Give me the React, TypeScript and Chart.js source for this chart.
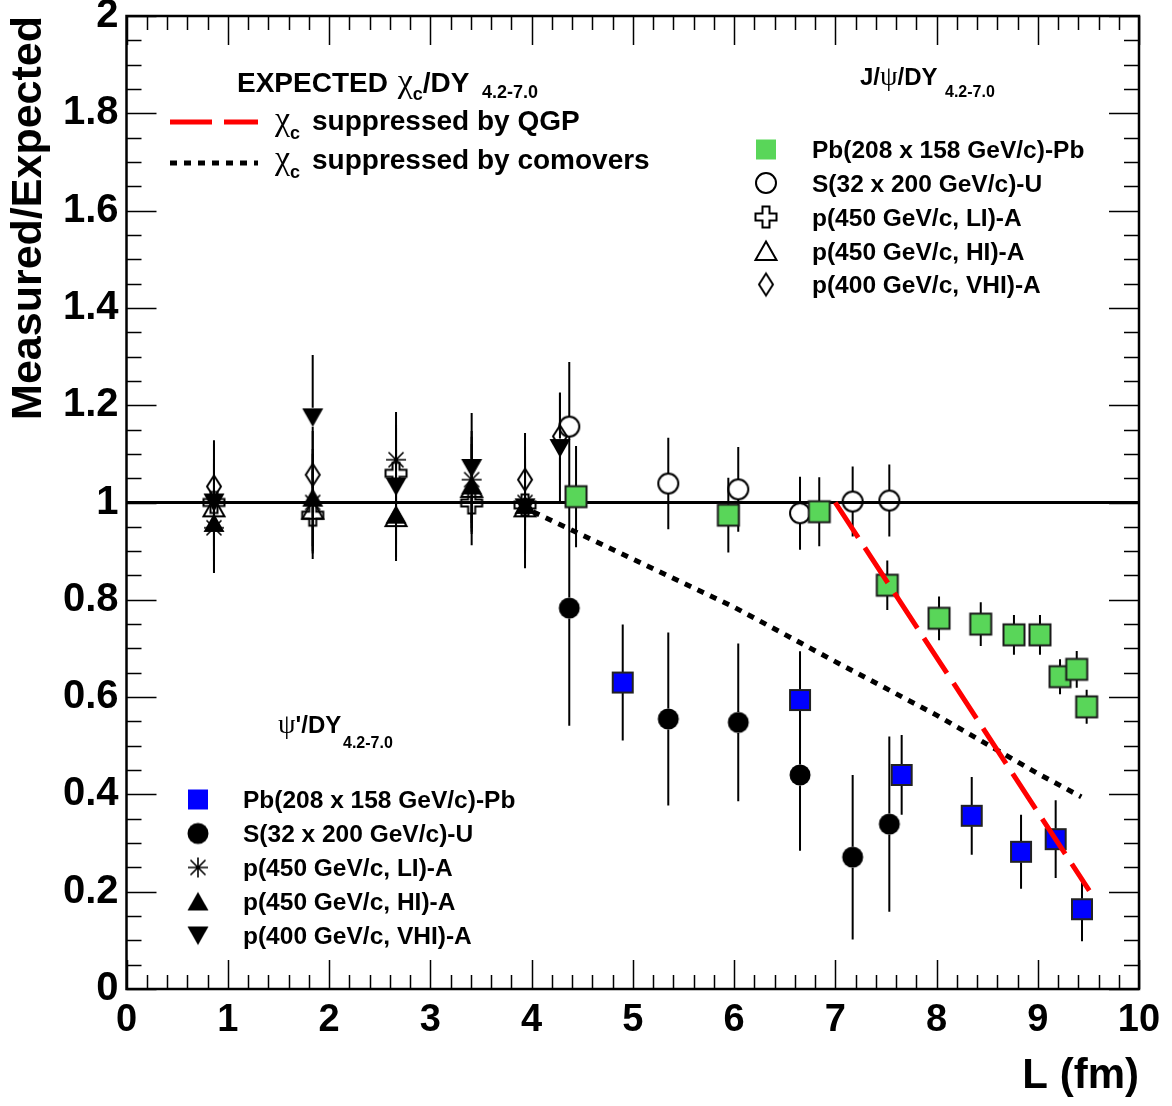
import React, { useEffect, useRef } from 'react';
import { Chart, registerables } from 'chart.js';

Chart.register(...registerables);

const W = 1172;
const H = 1106;
const SANS = "'Liberation Sans', Arial, Helvetica, sans-serif";
const GREEK = "'Liberation Serif', 'DejaVu Serif', serif";

// ---------- data (L in fm, ratio Measured/Expected, error) ----------
const jpsiPbPbL = [4.44, 5.944, 6.842, 7.514, 8.025, 8.437, 8.765, 9.022, 9.22, 9.385, 9.483];
const jpsiPbPbR = [1.012, 0.974, 0.981, 0.83, 0.762, 0.75, 0.728, 0.728, 0.642, 0.657, 0.58];
const jpsiPbPbE = [0.104, 0.077, 0.071, 0.051, 0.045, 0.045, 0.041, 0.041, 0.036, 0.038, 0.035];

const jpsiSUL = [4.373, 5.351, 6.042, 6.652, 7.172, 7.534];
const jpsiSUR = [1.156, 1.039, 1.027, 0.978, 1.002, 1.004];
const jpsiSUE = [0.133, 0.094, 0.087, 0.075, 0.072, 0.074];

const pAL = [0.864, 1.839, 2.662, 3.409, 3.936];
const jpsiLIR = [1.0, 0.974, 1.06, 0.999, 0.995];
const jpsiLIE = [0.09, 0.09, 0.1, 0.087, 0.09];
const jpsiHIR = [0.99, 0.985, 0.97, 1.03, 0.99];
const jpsiHIE = [0.09, 0.09, 0.09, 0.09, 0.09];
const jpsiVHIL = [0.864, 1.839, 3.936, 4.281];
const jpsiVHIR = [1.033, 1.057, 1.047, 1.136];
const jpsiVHIE = [0.095, 0.09, 0.096, 0.09];

const psiPbPbL = [4.901, 6.652, 7.656, 8.348, 8.835, 9.177, 9.437];
const psiPbPbR = [0.63, 0.594, 0.44, 0.356, 0.282, 0.308, 0.164];
const psiPbPbE = [0.119, 0.1, 0.082, 0.08, 0.076, 0.08, 0.066];

const psiSUL = [4.373, 5.351, 6.042, 6.652, 7.172, 7.534];
const psiSUR = [0.783, 0.555, 0.548, 0.44, 0.271, 0.339];
const psiSUE = [0.242, 0.178, 0.162, 0.156, 0.169, 0.18];

const psiLIR = [0.948, 1.0, 1.088, 1.047, 1.0];
const psiLIE = [0.093, 0.1, 0.098, 0.1, 0.1];
const psiHIR = [0.958, 1.01, 0.975, 1.035, 0.995];
const psiHIE = [0.1, 0.1, 0.087, 0.1, 0.1];
const psiVHIL = [0.864, 1.839, 2.662, 3.409, 3.936, 4.281];
const psiVHIR = [1.0, 1.175, 1.033, 1.071, 0.99, 1.112];
const psiVHIE = [0.12, 0.128, 0.12, 0.113, 0.125, 0.113];

// theory curves
const qgpL = [7.0, 9.509];
const qgpR = [1.0, 0.202];
const comovL = [4.015, 5.0, 6.0, 7.0, 8.0, 9.0, 9.43];
const comovR = [0.981, 0.884, 0.785, 0.673, 0.563, 0.443, 0.395];
const unityL = [0, 10];
const unityR = [1, 1];

// axis ticks
const xTickStep = 1;
const yTickStep = 0.2;

// legends
const jpsiLegendLabels = [
  'Pb(208 x 158 GeV/c)-Pb',
  'S(32 x 200 GeV/c)-U',
  'p(450 GeV/c, LI)-A',
  'p(450 GeV/c, HI)-A',
  'p(400 GeV/c, VHI)-A',
];
const psiLegendLabels = [
  'Pb(208 x 158 GeV/c)-Pb',
  'S(32 x 200 GeV/c)-U',
  'p(450 GeV/c, LI)-A',
  'p(450 GeV/c, HI)-A',
  'p(400 GeV/c, VHI)-A',
];

const GREEN = '#59d659';
const BLUE = '#0000ff';

// ---------- markers ----------
function makeMarker(kind: string): HTMLCanvasElement {
  const s = 30;
  const c = document.createElement('canvas');
  c.width = s;
  c.height = s;
  const g = c.getContext('2d') as CanvasRenderingContext2D;
  g.translate(s / 2, s / 2);
  g.lineJoin = 'miter';
  g.strokeStyle = '#000';
  g.fillStyle = '#000';
  switch (kind) {
    case 'greenSq':
      g.fillStyle = GREEN;
      g.fillRect(-10.5, -10.5, 21, 21);
      g.lineWidth = 2;
      g.strokeStyle = '#1a1a1a';
      g.strokeRect(-10.5, -10.5, 21, 21);
      break;
    case 'blueSq':
      g.fillStyle = BLUE;
      g.fillRect(-10, -10, 20, 20);
      g.lineWidth = 2;
      g.strokeStyle = '#222';
      g.strokeRect(-10, -10, 20, 20);
      break;
    case 'greenSqL':
      g.fillStyle = GREEN;
      g.fillRect(-10, -10, 20, 20);
      break;
    case 'blueSqL':
      g.fillStyle = BLUE;
      g.fillRect(-10, -10, 20, 20);
      break;
    case 'circOpen':
      g.beginPath();
      g.arc(0, 0, 10, 0, Math.PI * 2);
      g.lineWidth = 2;
      g.stroke();
      break;
    case 'circFill':
      g.beginPath();
      g.arc(0, 0, 10.5, 0, Math.PI * 2);
      g.fill();
      break;
    case 'crossOpen': {
      const a = 10.5;
      const b = 3.5;
      g.beginPath();
      g.moveTo(-b, -a);
      g.lineTo(b, -a);
      g.lineTo(b, -b);
      g.lineTo(a, -b);
      g.lineTo(a, b);
      g.lineTo(b, b);
      g.lineTo(b, a);
      g.lineTo(-b, a);
      g.lineTo(-b, b);
      g.lineTo(-a, b);
      g.lineTo(-a, -b);
      g.lineTo(-b, -b);
      g.closePath();
      g.lineWidth = 2;
      g.stroke();
      break;
    }
    case 'triOpen':
      g.beginPath();
      g.moveTo(0, -9.5);
      g.lineTo(10.5, 9);
      g.lineTo(-10.5, 9);
      g.closePath();
      g.lineWidth = 2;
      g.stroke();
      break;
    case 'triFill':
      g.beginPath();
      g.moveTo(0, -9.5);
      g.lineTo(10.5, 9);
      g.lineTo(-10.5, 9);
      g.closePath();
      g.fill();
      break;
    case 'triDown':
      g.beginPath();
      g.moveTo(0, 9.5);
      g.lineTo(10.5, -9);
      g.lineTo(-10.5, -9);
      g.closePath();
      g.fill();
      break;
    case 'diamond':
      g.beginPath();
      g.moveTo(0, -11);
      g.lineTo(7, 0);
      g.lineTo(0, 11);
      g.lineTo(-7, 0);
      g.closePath();
      g.lineWidth = 2;
      g.stroke();
      break;
    case 'star':
      g.lineWidth = 1.6;
      g.beginPath();
      g.moveTo(-10, 0);
      g.lineTo(10, 0);
      g.moveTo(0, -10);
      g.lineTo(0, 10);
      g.moveTo(-7.5, -7.5);
      g.lineTo(7.5, 7.5);
      g.moveTo(-7.5, 7.5);
      g.lineTo(7.5, -7.5);
      g.stroke();
      break;
  }
  return c;
}

function pts(xs: number[], ys: number[]) {
  return xs.map((x, i) => ({ x, y: ys[i] }));
}

function markerSet(label: string, xs: number[], ys: number[], es: number[], marker: HTMLCanvasElement, gap: number, order: number) {
  return {
    type: 'scatter' as const,
    label,
    data: pts(xs, ys),
    errs: es,
    gap,
    pointStyle: marker,
    pointRadius: 10,
    showLine: false,
    order,
  };
}

function rich(ctx: CanvasRenderingContext2D, x: number, y: number, parts: [string, string, number, number][]) {
  let cx = x;
  for (const [t, f, dy, extra] of parts) {
    ctx.font = f;
    ctx.fillText(t, cx, y + dy);
    cx += ctx.measureText(t).width + extra;
  }
}

export default function App() {
  const ref = useRef<HTMLCanvasElement | null>(null);

  useEffect(() => {
    const canvas = ref.current;
    if (!canvas) return;

    const M = {
      greenSq: makeMarker('greenSq'),
      blueSq: makeMarker('blueSq'),
      greenSqL: makeMarker('greenSqL'),
      blueSqL: makeMarker('blueSqL'),
      circOpen: makeMarker('circOpen'),
      circFill: makeMarker('circFill'),
      crossOpen: makeMarker('crossOpen'),
      triOpen: makeMarker('triOpen'),
      triFill: makeMarker('triFill'),
      triDown: makeMarker('triDown'),
      diamond: makeMarker('diamond'),
      star: makeMarker('star'),
    };

    const errorBars = {
      id: 'errorBars',
      beforeDatasetsDraw(chart: any) {
        const ctx = chart.ctx as CanvasRenderingContext2D;
        const ys = chart.scales.y;
        ctx.save();
        ctx.strokeStyle = '#000';
        ctx.lineWidth = 2;
        chart.data.datasets.forEach((ds: any, i: number) => {
          if (!ds.errs) return;
          const meta = chart.getDatasetMeta(i);
          meta.data.forEach((el: any, j: number) => {
            const v = ds.data[j].y;
            const e = ds.errs[j];
            const top = ys.getPixelForValue(v + e);
            const bot = ys.getPixelForValue(v - e);
            ctx.beginPath();
            if (top < el.y - ds.gap) {
              ctx.moveTo(el.x, top);
              ctx.lineTo(el.x, el.y - ds.gap);
            }
            if (bot > el.y + ds.gap) {
              ctx.moveTo(el.x, el.y + ds.gap);
              ctx.lineTo(el.x, bot);
            }
            ctx.stroke();
          });
        });
        ctx.restore();
      },
    };

    const frame = {
      id: 'frame',
      afterDatasetsDraw(chart: any) {
        const ctx = chart.ctx as CanvasRenderingContext2D;
        const { left, right, top, bottom } = chart.chartArea;
        const xs = chart.scales.x;
        const ys = chart.scales.y;
        ctx.save();
        ctx.strokeStyle = '#000';
        ctx.lineWidth = 1.5;
        ctx.beginPath();
        for (let k = 0; k <= 50; k++) {
          const v = k * 0.2;
          const px = Math.round(xs.getPixelForValue(v)) + 0.5;
          const len = k % 5 === 0 ? 29 : 14;
          ctx.moveTo(px, bottom);
          ctx.lineTo(px, bottom - len);
          ctx.moveTo(px, top);
          ctx.lineTo(px, top + len);
        }
        for (let k = 0; k <= 40; k++) {
          const v = k * 0.05;
          const py = Math.round(ys.getPixelForValue(v)) + 0.5;
          const len = k % 4 === 0 ? 30 : 15;
          ctx.moveTo(left, py);
          ctx.lineTo(left + len, py);
          ctx.moveTo(right, py);
          ctx.lineTo(right - len, py);
        }
        ctx.stroke();
        ctx.lineWidth = 2.5;
        ctx.strokeRect(left, top, right - left, bottom - top);
        ctx.restore();
      },
      afterDraw(chart: any) {
        const ctx = chart.ctx as CanvasRenderingContext2D;
        ctx.save();
        ctx.fillStyle = '#000';
        ctx.textBaseline = 'alphabetic';
        ctx.textAlign = 'left';
        const B28 = `bold 28px ${SANS}`;
        const B18 = `bold 18px ${SANS}`;
        const G34 = `34px ${GREEK}`;
        // Expected chi_c legend
        rich(ctx, 237, 92, [
          ['EXPECTED ', B28, 0, 2],
          ['\u03c7', G34, 0, 0],
          ['c', B18, 8, 0],
          ['/DY', B28, 0, 0],
        ]);
        ctx.font = B18;
        ctx.fillText('4.2-7.0', 482, 98);
        ctx.lineWidth = 5;
        ctx.strokeStyle = '#ff0000';
        ctx.setLineDash([42, 12]);
        ctx.beginPath();
        ctx.moveTo(170, 122);
        ctx.lineTo(258, 122);
        ctx.stroke();
        ctx.strokeStyle = '#000';
        ctx.setLineDash([7, 7]);
        ctx.beginPath();
        ctx.moveTo(170, 163);
        ctx.lineTo(258, 163);
        ctx.stroke();
        ctx.setLineDash([]);
        rich(ctx, 275, 130, [['\u03c7', G34, 0, 0], ['c', B18, 9, 0]]);
        ctx.font = B28;
        ctx.fillText('suppressed by QGP', 312, 130);
        rich(ctx, 275, 169, [['\u03c7', G34, 0, 0], ['c', B18, 9, 0]]);
        ctx.font = B28;
        ctx.fillText('suppressed by comovers', 312, 169);

        // J/psi legend
        const B24 = `bold 24px ${SANS}`;
        const B25 = `bold 24.5px ${SANS}`;
        const B16 = `bold 16px ${SANS}`;
        const G28 = `28px ${GREEK}`;
        rich(ctx, 860, 85, [['J/', B24, 0, 0], ['\u03c8', G28, 0, 0], ['/DY', B24, 0, 0]]);
        ctx.font = B16;
        ctx.fillText('4.2-7.0', 945, 97);
        const jm = [M.greenSqL, M.circOpen, M.crossOpen, M.triOpen, M.diamond];
        const jb = [158, 191.5, 225.5, 259.5, 293];
        jpsiLegendLabels.forEach((t, i) => {
          const mk = jm[i];
          ctx.drawImage(mk, 766 - mk.width / 2, jb[i] - 8.5 - mk.height / 2);
          ctx.font = B25;
          ctx.fillText(t, 812, jb[i]);
        });

        // psi' legend
        rich(ctx, 278, 733, [['\u03c8', G28, 0, 0], ["'/DY", B24, 0, 0]]);
        ctx.font = B16;
        ctx.fillText('4.2-7.0', 343, 748);
        const pm = [M.blueSqL, M.circFill, M.star, M.triFill, M.triDown];
        const pb = [808, 842, 876, 910, 944];
        psiLegendLabels.forEach((t, i) => {
          const mk = pm[i];
          ctx.drawImage(mk, 198 - mk.width / 2, pb[i] - 8.5 - mk.height / 2);
          ctx.font = B25;
          ctx.fillText(t, 243, pb[i]);
        });
        ctx.restore();
      },
    };

    const chart = new Chart(canvas, {
      type: 'scatter',
      data: {
        datasets: [
          {
            type: 'line',
            label: 'unity',
            data: pts(unityL, unityR),
            borderColor: '#000',
            borderWidth: 3,
            pointRadius: 0,
            order: 100,
          } as any,
          markerSet('psi SU', psiSUL, psiSUR, psiSUE, M.circFill, 10.5, 20),
          markerSet('psi PbPb', psiPbPbL, psiPbPbR, psiPbPbE, M.blueSq, 10.5, 10),
          markerSet('jpsi LI', pAL, jpsiLIR, jpsiLIE, M.crossOpen, 10.5, 30),
          markerSet('jpsi HI', pAL, jpsiHIR, jpsiHIE, M.triOpen, 9.5, 29),
          markerSet('jpsi VHI', jpsiVHIL, jpsiVHIR, jpsiVHIE, M.diamond, 11, 28),
          markerSet('psi LI', pAL, psiLIR, psiLIE, M.star, 0, 27),
          markerSet('psi HI', pAL, psiHIR, psiHIE, M.triFill, 9.5, 26),
          markerSet('psi VHI', psiVHIL, psiVHIR, psiVHIE, M.triDown, 9.5, 25),
          markerSet('jpsi SU', jpsiSUL, jpsiSUR, jpsiSUE, M.circOpen, 10, 15),
          markerSet('jpsi PbPb', jpsiPbPbL, jpsiPbPbR, jpsiPbPbE, M.greenSq, 10.5, 5),
          {
            type: 'line',
            label: 'comovers',
            data: pts(comovL, comovR),
            borderColor: '#000',
            borderWidth: 5,
            borderDash: [7, 7],
            pointRadius: 0,
            tension: 0,
            order: 1,
          } as any,
          {
            type: 'line',
            label: 'QGP',
            data: pts(qgpL, qgpR),
            borderColor: '#ff0000',
            borderWidth: 5,
            borderDash: [42, 12],
            pointRadius: 0,
            order: 0,
          } as any,
        ] as any,
      },
      options: {
        responsive: false,
        animation: false,
        devicePixelRatio: 1,
        layout: { padding: { top: 16, right: 33, left: 0, bottom: 0 } },
        plugins: { legend: { display: false }, tooltip: { enabled: false } },
        scales: {
          x: {
            type: 'linear',
            min: 0,
            max: 10,
            grid: { display: false, drawTicks: false },
            border: { display: false },
            ticks: {
              stepSize: xTickStep,
              autoSkip: false,
              maxRotation: 0,
              color: '#000',
              padding: 9,
              font: { family: SANS, size: 38, weight: 'bold' },
              callback: (v: any) => String(Math.round(Number(v) * 10) / 10),
            },
            title: {
              display: true,
              text: 'L (fm)',
              align: 'end',
              color: '#000',
              font: { family: SANS, size: 42, weight: 'bold' },
              padding: { top: 0, bottom: 4 },
            },
            afterFit: (s: any) => {
              s.height = H - 989;
              s.paddingLeft = 0;
              s.paddingRight = 0;
            },
          },
          y: {
            type: 'linear',
            min: 0,
            max: 2,
            grid: { display: false, drawTicks: false },
            border: { display: false },
            ticks: {
              stepSize: yTickStep,
              autoSkip: false,
              color: '#000',
              padding: 8,
              font: { family: SANS, size: 40, weight: 'bold' },
              callback: (v: any) => String(Math.round(Number(v) * 10) / 10),
            },
            title: {
              display: true,
              text: 'Measured/Expected',
              align: 'end',
              color: '#000',
              font: { family: SANS, size: 43, weight: 'bold' },
              padding: { top: 3, bottom: 0 },
            },
            afterFit: (s: any) => {
              s.width = 126.5;
              s.paddingTop = 0;
              s.paddingBottom = 0;
            },
          },
        },
      } as any,
      plugins: [errorBars, frame],
    });

    return () => chart.destroy();
  }, []);

  return (
    <div style={{ position: 'absolute', left: 0, top: 0, width: W, height: H, background: '#fff' }}>
      <canvas ref={ref} width={W} height={H} style={{ display: 'block', width: W, height: H }} />
    </div>
  );
}
